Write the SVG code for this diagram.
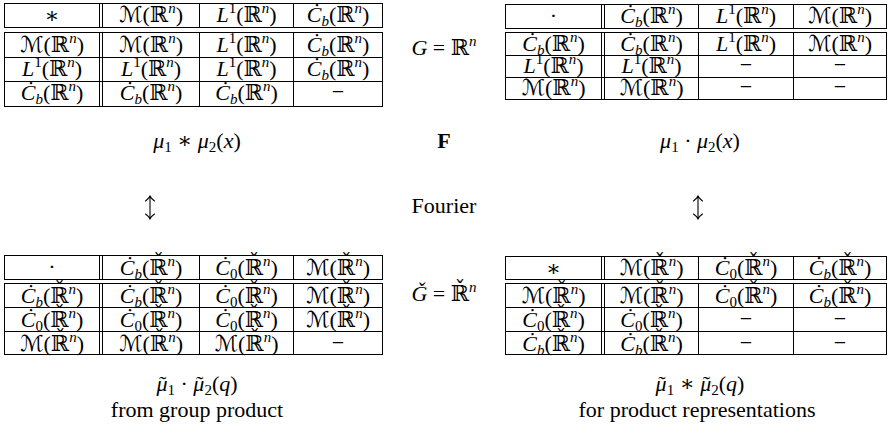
<svg xmlns="http://www.w3.org/2000/svg" width="888" height="439" viewBox="0 0 888 439">
<style>
.t{font-family:"Liberation Serif","DejaVu Serif","DejaVu Sans",serif;font-size:22px;text-anchor:middle;fill:#000}
.i{font-style:italic}
.s{font-size:15px;font-style:italic}
.s1{font-size:15px;font-style:normal}
.sb{font-size:15px;font-style:italic}
.sb0{font-size:15px;font-style:normal}
.b{font-weight:bold}
.ln{stroke:#000;stroke-width:1;fill:none}
.ar{stroke:#000;stroke-width:1.1;fill:none;stroke-linecap:round}
</style>
<rect width="888" height="439" fill="#fff"/>

<!-- Top-left table -->
<g id="table-conv-G" transform="translate(4.5,0.5)">
  <rect class="ln" x="0" y="3" width="378" height="24"/>
  <rect class="ln" x="0" y="32" width="378" height="74"/>
  <path class="ln" d="M95 3V27M98 3V27M195 3V27M289 3V27M95 32V106M98 32V106M195 32V106M289 32V106M0 57H378M0 81H378"/>
  <g class="t">
    <text x="47.5" y="22">∗</text>
    <text x="146.5" y="21">ℳ(ℝ<tspan class="s" dy="-9">n</tspan><tspan dy="9">)</tspan></text>
    <text x="242" y="21"><tspan class="i">L</tspan><tspan class="s1" dy="-9">1</tspan><tspan dy="9">(ℝ</tspan><tspan class="s" dy="-9">n</tspan><tspan dy="9">)</tspan></text>
    <text x="333.5" y="21"><tspan class="i">Ċ</tspan><tspan class="sb" dy="4">b</tspan><tspan dy="-4">(ℝ</tspan><tspan class="s" dy="-9">n</tspan><tspan dy="9">)</tspan></text>

    <text x="47.5" y="51">ℳ(ℝ<tspan class="s" dy="-9">n</tspan><tspan dy="9">)</tspan></text>
    <text x="146.5" y="51">ℳ(ℝ<tspan class="s" dy="-9">n</tspan><tspan dy="9">)</tspan></text>
    <text x="242" y="51"><tspan class="i">L</tspan><tspan class="s1" dy="-9">1</tspan><tspan dy="9">(ℝ</tspan><tspan class="s" dy="-9">n</tspan><tspan dy="9">)</tspan></text>
    <text x="333.5" y="51"><tspan class="i">Ċ</tspan><tspan class="sb" dy="4">b</tspan><tspan dy="-4">(ℝ</tspan><tspan class="s" dy="-9">n</tspan><tspan dy="9">)</tspan></text>

    <text x="47.5" y="75"><tspan class="i">L</tspan><tspan class="s1" dy="-9">1</tspan><tspan dy="9">(ℝ</tspan><tspan class="s" dy="-9">n</tspan><tspan dy="9">)</tspan></text>
    <text x="146.5" y="75"><tspan class="i">L</tspan><tspan class="s1" dy="-9">1</tspan><tspan dy="9">(ℝ</tspan><tspan class="s" dy="-9">n</tspan><tspan dy="9">)</tspan></text>
    <text x="242" y="75"><tspan class="i">L</tspan><tspan class="s1" dy="-9">1</tspan><tspan dy="9">(ℝ</tspan><tspan class="s" dy="-9">n</tspan><tspan dy="9">)</tspan></text>
    <text x="333.5" y="75"><tspan class="i">Ċ</tspan><tspan class="sb" dy="4">b</tspan><tspan dy="-4">(ℝ</tspan><tspan class="s" dy="-9">n</tspan><tspan dy="9">)</tspan></text>

    <text x="47.5" y="99"><tspan class="i">Ċ</tspan><tspan class="sb" dy="4">b</tspan><tspan dy="-4">(ℝ</tspan><tspan class="s" dy="-9">n</tspan><tspan dy="9">)</tspan></text>
    <text x="146.5" y="99"><tspan class="i">Ċ</tspan><tspan class="sb" dy="4">b</tspan><tspan dy="-4">(ℝ</tspan><tspan class="s" dy="-9">n</tspan><tspan dy="9">)</tspan></text>
    <text x="242" y="99"><tspan class="i">Ċ</tspan><tspan class="sb" dy="4">b</tspan><tspan dy="-4">(ℝ</tspan><tspan class="s" dy="-9">n</tspan><tspan dy="9">)</tspan></text>
    <text x="333.5" y="98">−</text>
  </g>
</g>

<!-- Top-right table -->
<g id="table-prod-G" transform="translate(505.5,0.5)">
  <rect class="ln" x="0" y="4" width="381" height="24"/>
  <rect class="ln" x="0" y="32" width="381" height="67"/>
  <path class="ln" d="M96 4V28M99 4V28M193 4V28M288 4V28M96 32V99M99 32V99M193 32V99M288 32V99M0 55H381M0 77H381"/>
  <g class="t">
    <text x="48" y="22">·</text>
    <text x="146" y="22"><tspan class="i">Ċ</tspan><tspan class="sb" dy="4">b</tspan><tspan dy="-4">(ℝ</tspan><tspan class="s" dy="-9">n</tspan><tspan dy="9">)</tspan></text>
    <text x="240.5" y="22"><tspan class="i">L</tspan><tspan class="s1" dy="-9">1</tspan><tspan dy="9">(ℝ</tspan><tspan class="s" dy="-9">n</tspan><tspan dy="9">)</tspan></text>
    <text x="334.5" y="22">ℳ(ℝ<tspan class="s" dy="-9">n</tspan><tspan dy="9">)</tspan></text>

    <text x="48" y="50"><tspan class="i">Ċ</tspan><tspan class="sb" dy="4">b</tspan><tspan dy="-4">(ℝ</tspan><tspan class="s" dy="-9">n</tspan><tspan dy="9">)</tspan></text>
    <text x="146" y="50"><tspan class="i">Ċ</tspan><tspan class="sb" dy="4">b</tspan><tspan dy="-4">(ℝ</tspan><tspan class="s" dy="-9">n</tspan><tspan dy="9">)</tspan></text>
    <text x="240.5" y="50"><tspan class="i">L</tspan><tspan class="s1" dy="-9">1</tspan><tspan dy="9">(ℝ</tspan><tspan class="s" dy="-9">n</tspan><tspan dy="9">)</tspan></text>
    <text x="334.5" y="50">ℳ(ℝ<tspan class="s" dy="-9">n</tspan><tspan dy="9">)</tspan></text>

    <text x="48" y="72"><tspan class="i">L</tspan><tspan class="s1" dy="-9">1</tspan><tspan dy="9">(ℝ</tspan><tspan class="s" dy="-9">n</tspan><tspan dy="9">)</tspan></text>
    <text x="146" y="72"><tspan class="i">L</tspan><tspan class="s1" dy="-9">1</tspan><tspan dy="9">(ℝ</tspan><tspan class="s" dy="-9">n</tspan><tspan dy="9">)</tspan></text>
    <text x="240.5" y="71">−</text>
    <text x="334.5" y="71">−</text>

    <text x="48" y="94">ℳ(ℝ<tspan class="s" dy="-9">n</tspan><tspan dy="9">)</tspan></text>
    <text x="146" y="94">ℳ(ℝ<tspan class="s" dy="-9">n</tspan><tspan dy="9">)</tspan></text>
    <text x="240.5" y="93">−</text>
    <text x="334.5" y="93">−</text>
  </g>
</g>

<!-- Bottom-left table -->
<g id="table-prod-Gcheck" transform="translate(4.5,0.5)">
  <rect class="ln" x="0" y="255" width="378" height="24"/>
  <rect class="ln" x="0" y="283" width="378" height="71"/>
  <path class="ln" d="M95 255V279M98 255V279M195 255V279M289 255V279M95 283V354M98 283V354M195 283V354M289 283V354M0 307H378M0 331H378"/>
  <g class="t">
    <text x="47.5" y="273">·</text>
    <text x="146.5" y="274"><tspan class="i">Ċ</tspan><tspan class="sb" dy="4">b</tspan><tspan dy="-4">(ℝ̌</tspan><tspan class="s" dy="-9">n</tspan><tspan dy="9">)</tspan></text>
    <text x="242" y="274"><tspan class="i">Ċ</tspan><tspan class="sb0" dy="4">0</tspan><tspan dy="-4">(ℝ̌</tspan><tspan class="s" dy="-9">n</tspan><tspan dy="9">)</tspan></text>
    <text x="333.5" y="274">ℳ(ℝ̌<tspan class="s" dy="-9">n</tspan><tspan dy="9">)</tspan></text>

    <text x="47.5" y="302"><tspan class="i">Ċ</tspan><tspan class="sb" dy="4">b</tspan><tspan dy="-4">(ℝ̌</tspan><tspan class="s" dy="-9">n</tspan><tspan dy="9">)</tspan></text>
    <text x="146.5" y="302"><tspan class="i">Ċ</tspan><tspan class="sb" dy="4">b</tspan><tspan dy="-4">(ℝ̌</tspan><tspan class="s" dy="-9">n</tspan><tspan dy="9">)</tspan></text>
    <text x="242" y="302"><tspan class="i">Ċ</tspan><tspan class="sb0" dy="4">0</tspan><tspan dy="-4">(ℝ̌</tspan><tspan class="s" dy="-9">n</tspan><tspan dy="9">)</tspan></text>
    <text x="333.5" y="302">ℳ(ℝ̌<tspan class="s" dy="-9">n</tspan><tspan dy="9">)</tspan></text>

    <text x="47.5" y="326"><tspan class="i">Ċ</tspan><tspan class="sb0" dy="4">0</tspan><tspan dy="-4">(ℝ̌</tspan><tspan class="s" dy="-9">n</tspan><tspan dy="9">)</tspan></text>
    <text x="146.5" y="326"><tspan class="i">Ċ</tspan><tspan class="sb0" dy="4">0</tspan><tspan dy="-4">(ℝ̌</tspan><tspan class="s" dy="-9">n</tspan><tspan dy="9">)</tspan></text>
    <text x="242" y="326"><tspan class="i">Ċ</tspan><tspan class="sb0" dy="4">0</tspan><tspan dy="-4">(ℝ̌</tspan><tspan class="s" dy="-9">n</tspan><tspan dy="9">)</tspan></text>
    <text x="333.5" y="326">ℳ(ℝ̌<tspan class="s" dy="-9">n</tspan><tspan dy="9">)</tspan></text>

    <text x="47.5" y="350">ℳ(ℝ̌<tspan class="s" dy="-9">n</tspan><tspan dy="9">)</tspan></text>
    <text x="146.5" y="350">ℳ(ℝ̌<tspan class="s" dy="-9">n</tspan><tspan dy="9">)</tspan></text>
    <text x="242" y="350">ℳ(ℝ̌<tspan class="s" dy="-9">n</tspan><tspan dy="9">)</tspan></text>
    <text x="333.5" y="349">−</text>
  </g>
</g>

<!-- Bottom-right table -->
<g id="table-conv-Gcheck" transform="translate(505.5,0.5)">
  <rect class="ln" x="0" y="256" width="381" height="23"/>
  <rect class="ln" x="0" y="283" width="381" height="71"/>
  <path class="ln" d="M96 256V279M99 256V279M193 256V279M288 256V279M96 283V354M99 283V354M193 283V354M288 283V354M0 307H381M0 331H381"/>
  <g class="t">
    <text x="48" y="275">∗</text>
    <text x="146" y="274">ℳ(ℝ̌<tspan class="s" dy="-9">n</tspan><tspan dy="9">)</tspan></text>
    <text x="240.5" y="274"><tspan class="i">Ċ</tspan><tspan class="sb0" dy="4">0</tspan><tspan dy="-4">(ℝ̌</tspan><tspan class="s" dy="-9">n</tspan><tspan dy="9">)</tspan></text>
    <text x="334.5" y="274"><tspan class="i">Ċ</tspan><tspan class="sb" dy="4">b</tspan><tspan dy="-4">(ℝ̌</tspan><tspan class="s" dy="-9">n</tspan><tspan dy="9">)</tspan></text>

    <text x="48" y="302">ℳ(ℝ̌<tspan class="s" dy="-9">n</tspan><tspan dy="9">)</tspan></text>
    <text x="146" y="302">ℳ(ℝ̌<tspan class="s" dy="-9">n</tspan><tspan dy="9">)</tspan></text>
    <text x="240.5" y="302"><tspan class="i">Ċ</tspan><tspan class="sb0" dy="4">0</tspan><tspan dy="-4">(ℝ̌</tspan><tspan class="s" dy="-9">n</tspan><tspan dy="9">)</tspan></text>
    <text x="334.5" y="302"><tspan class="i">Ċ</tspan><tspan class="sb" dy="4">b</tspan><tspan dy="-4">(ℝ̌</tspan><tspan class="s" dy="-9">n</tspan><tspan dy="9">)</tspan></text>

    <text x="48" y="326"><tspan class="i">Ċ</tspan><tspan class="sb0" dy="4">0</tspan><tspan dy="-4">(ℝ̌</tspan><tspan class="s" dy="-9">n</tspan><tspan dy="9">)</tspan></text>
    <text x="146" y="326"><tspan class="i">Ċ</tspan><tspan class="sb0" dy="4">0</tspan><tspan dy="-4">(ℝ̌</tspan><tspan class="s" dy="-9">n</tspan><tspan dy="9">)</tspan></text>
    <text x="240.5" y="325">−</text>
    <text x="334.5" y="325">−</text>

    <text x="48" y="350"><tspan class="i">Ċ</tspan><tspan class="sb" dy="4">b</tspan><tspan dy="-4">(ℝ̌</tspan><tspan class="s" dy="-9">n</tspan><tspan dy="9">)</tspan></text>
    <text x="146" y="350"><tspan class="i">Ċ</tspan><tspan class="sb" dy="4">b</tspan><tspan dy="-4">(ℝ̌</tspan><tspan class="s" dy="-9">n</tspan><tspan dy="9">)</tspan></text>
    <text x="240.5" y="349">−</text>
    <text x="334.5" y="349">−</text>
  </g>
</g>

<!-- Middle labels -->
<g id="label-G" class="t">
  <text x="444" y="55"><tspan class="i">G</tspan> = ℝ<tspan class="s" dy="-9">n</tspan></text>
</g>
<g id="label-Gcheck" class="t">
  <text x="444" y="301"><tspan class="i">Ǧ</tspan> = ℝ̌<tspan class="s" dy="-9">n</tspan></text>
</g>
<g id="label-F" class="t">
  <text x="444" y="148" class="b">F</text>
  <text x="444" y="213">Fourier</text>
</g>

<g id="formula-top-left" class="t">
  <text x="197" y="148"><tspan class="i">μ</tspan><tspan class="sb0" dy="4">1</tspan><tspan dy="-4"> ∗ </tspan><tspan class="i">μ</tspan><tspan class="sb0" dy="4">2</tspan><tspan dy="-4">(</tspan><tspan class="i">x</tspan>)</text>
</g>
<g id="formula-top-right" class="t">
  <text x="700" y="148"><tspan class="i">μ</tspan><tspan class="sb0" dy="4">1</tspan><tspan dy="-4"> · </tspan><tspan class="i">μ</tspan><tspan class="sb0" dy="4">2</tspan><tspan dy="-4">(</tspan><tspan class="i">x</tspan>)</text>
</g>
<g id="formula-bottom-left" class="t">
  <text x="197" y="391"><tspan class="i">μ</tspan><tspan dx="-8.5">˜</tspan><tspan class="sb0" dx="1.2" dy="4">1</tspan><tspan dy="-4"> · </tspan><tspan class="i">μ</tspan><tspan dx="-8.5">˜</tspan><tspan class="sb0" dx="1.2" dy="4">2</tspan><tspan dy="-4">(</tspan><tspan class="i">q</tspan>)</text>
  <text x="197" y="417">from group product</text>
</g>
<g id="formula-bottom-right" class="t">
  <text x="700" y="391"><tspan class="i">μ</tspan><tspan dx="-8.5">˜</tspan><tspan class="sb0" dx="1.2" dy="4">1</tspan><tspan dy="-4"> ∗ </tspan><tspan class="i">μ</tspan><tspan dx="-8.5">˜</tspan><tspan class="sb0" dx="1.2" dy="4">2</tspan><tspan dy="-4">(</tspan><tspan class="i">q</tspan>)</text>
  <text x="697" y="417">for product representations</text>
</g>

<g id="connectors">
  <path class="ar" d="M150 196V219M145.5 201Q148.5 199 150 196Q151.5 199 154.5 201M145.5 214Q148.5 216 150 219Q151.5 216 154.5 214"/>
  <path class="ar" d="M698 196V219M693.5 201Q696.5 199 698 196Q699.5 199 702.5 201M693.5 214Q696.5 216 698 219Q699.5 216 702.5 214"/>
</g>
</svg>
